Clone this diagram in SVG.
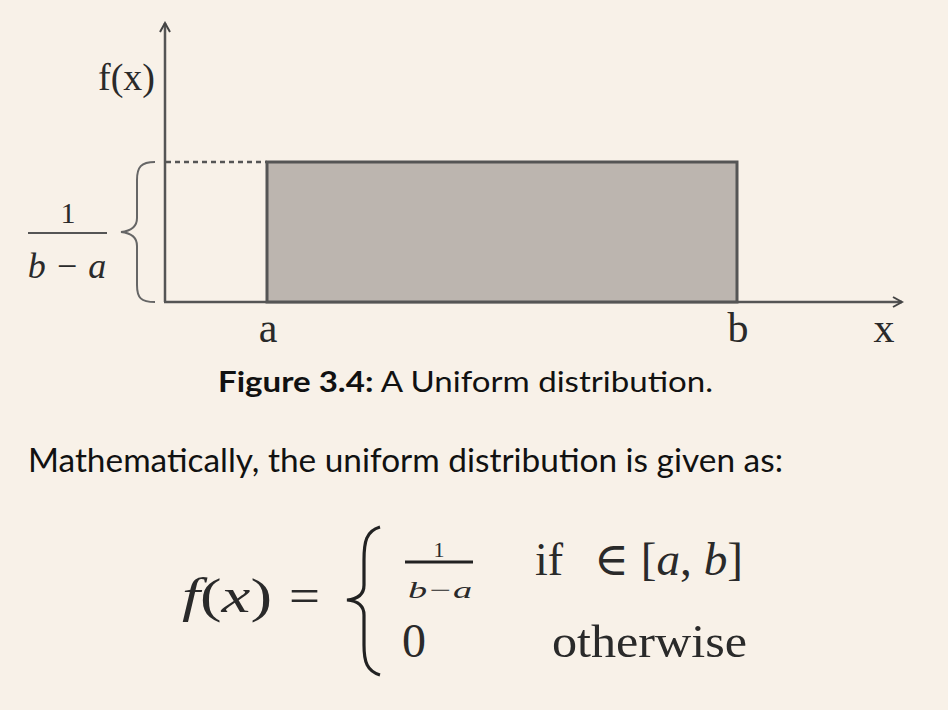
<svg xmlns="http://www.w3.org/2000/svg" width="948" height="710" viewBox="0 0 948 710">
<defs>
<style>
.serif{font-family:"Liberation Serif","DejaVu Serif",serif;fill:#2a2a2a}
.it{font-style:italic}
.sans{font-family:Lato,"Open Sans","Liberation Sans",sans-serif;fill:#111}
.ax{stroke:#555;stroke-width:2.5;fill:none}
</style>
<marker id="arr" viewBox="0 0 12 12" refX="10" refY="6" markerWidth="12" markerHeight="12" markerUnits="userSpaceOnUse" orient="auto">
<path d="M1,1 L10,6 L1,11" fill="none" stroke="#444" stroke-width="2"/>
</marker>
</defs>
<rect width="948" height="710" fill="#f8f1e8"/>
<g id="connectors">
<line class="ax" x1="165" y1="302" x2="165" y2="23" marker-end="url(#arr)"/>
<line class="ax" x1="164" y1="302" x2="902" y2="302" marker-end="url(#arr)"/>
<line x1="166" y1="162" x2="267" y2="162" stroke="#555" stroke-width="2.5" stroke-dasharray="5,4"/>
</g>
<g id="rect">
<rect x="267" y="162" width="470" height="140" fill="#bcb5af" stroke="#555" stroke-width="3"/>
</g>
<g id="ylabel">
<text class="serif" x="155" y="90" font-size="38" text-anchor="end">f(x)</text>
</g>
<g id="brace">
<path d="M155,162 C141,162 137,167 137,180 L137,218 C137,227 131,231 121,232 C131,233 137,237 137,246 L137,285 C137,298 141,302 155,302" fill="none" stroke="#666" stroke-width="2"/>
</g>
<g id="fraction">
<text class="serif" x="68" y="223" font-size="30" text-anchor="middle">1</text>
<line x1="28" y1="233" x2="107" y2="233" stroke="#555" stroke-width="2"/>
<text class="serif it" x="67" y="278" font-size="36" text-anchor="middle">b − a</text>
</g>
<g id="labels">
<text class="serif" x="268" y="342" font-size="42" text-anchor="middle">a</text>
<text class="serif" x="738" y="342" font-size="42" text-anchor="middle">b</text>
<text class="serif" x="884" y="342" font-size="42" text-anchor="middle">x</text>
</g>
<g id="caption">
<text class="sans" x="218" y="392" font-size="29" textLength="495" lengthAdjust="spacingAndGlyphs"><tspan font-weight="bold">Figure 3.4:</tspan> A Uniform distribution.</text>
</g>
<g id="body">
<text class="sans" x="28" y="472" font-size="33" textLength="755" lengthAdjust="spacingAndGlyphs">Mathematically, the uniform distribution is given as:</text>
</g>
<g id="formula">
<text class="serif" x="182" y="612" font-size="48" textLength="90" lengthAdjust="spacingAndGlyphs"><tspan class="it">f</tspan>(<tspan class="it">x</tspan>)</text>
<text class="serif" x="289" y="612" font-size="48" textLength="31" lengthAdjust="spacingAndGlyphs">=</text>
<path d="M380,527 C366,531 364,542 364,560 L364,585 C364,594 358,599 347,600 C358,601 364,606 364,615 L364,645 C364,662 367,671 380,675" fill="none" stroke="#222" stroke-width="3.2"/>
<text class="serif" x="439" y="557" font-size="22" text-anchor="middle">1</text>
<line x1="405" y1="562" x2="473" y2="562" stroke="#222" stroke-width="3"/>
<text class="serif it" x="408" y="598" font-size="24" textLength="64" lengthAdjust="spacingAndGlyphs">b−a</text>
<text class="serif" x="535" y="575" font-size="46">if</text>
<text class="serif" x="594" y="575" font-size="46" textLength="149" lengthAdjust="spacingAndGlyphs">∈ [<tspan class="it">a</tspan>, <tspan class="it">b</tspan>]</text>
<text class="serif" x="402" y="657" font-size="48">0</text>
<text class="serif" x="552" y="657" font-size="46" textLength="195" lengthAdjust="spacingAndGlyphs">otherwise</text>
</g>
</svg>
